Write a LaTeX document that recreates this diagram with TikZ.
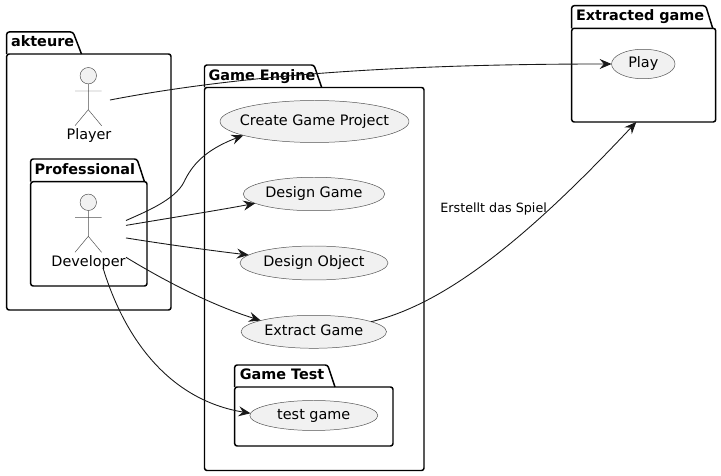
\documentclass[tikz,border=0pt]{standalone}
\usepackage{fontspec}
\setmainfont{DejaVu Sans}
\usetikzlibrary{arrows.meta,fit,shapes.geometric}
\definecolor{ink}{HTML}{181818}
\definecolor{paleFill}{HTML}{F1F1F1}
\newcommand{\uclabel}[1]{\makebox[0pt]{#1}}
\tikzset{
  pkgline/.style = {black, line width = 0.85pt, rounded corners = 1.4pt},
  pkgbody/.style = {pkgline, rectangle, inner sep = 0pt, outer sep = 0pt},
  pkgtitle/.style = {anchor = base west, inner sep = 0pt, font = \bfseries\fontsize{8.2}{9.5}\selectfont},
  usecase/.style = {ellipse, draw = ink!75, fill = paleFill, line width = 0.28pt, inner sep = 0pt, outer sep = 0pt, text height = 7pt, text depth = 2.8pt, font = \fontsize{8.2}{9.5}\selectfont},
  actorbox/.style = {rectangle, inner sep = 0pt, outer sep = 0pt},
  actorlabel/.style = {anchor = base, inner sep = 0pt, font = \fontsize{8.2}{9.5}\selectfont},
  edgelabel/.style = {anchor = base west, inner sep = 0pt, font = \fontsize{7.25}{9}\selectfont},
  link/.style = {ink, line width = 0.5pt, -{Stealth[length = 6.8pt, width = 5.7pt, inset = 2.4pt]}},
  actor/.pic = {
    \draw[ink!75, line width = 0.28pt, fill = paleFill] (0, 0) circle (8.2);
    \draw[ink!75, line width = 0.28pt] (0, 8.2) -- (0, 34) (-13.3, 15.3) -- (13.3, 15.3) (-13.3, 50) -- (0, 34) -- (13.3, 50);
  }
}
\begin{document}
\begin{tikzpicture}[x = 0.02cm, y = -0.02cm]
\useasboundingbox (0, 0) rectangle (721, 476);

% packages
\node[pkgbody, draw, fit = {(6.7, 54) (171, 310)}] (akteure) {};
\draw[pkgline] (6.7, 54) -- (6.7, 32) -- (73, 32) -- (81.5, 54);
\node[pkgtitle] (akteure title) at (10.7, 47) {akteure};

\node[pkgbody, draw, fit = {(30.7, 181.7) (147, 286)}] (professional) {};
\draw[pkgline] (30.7, 181.7) -- (30.7, 159) -- (137, 159) -- (144.5, 181.7);
\node[pkgtitle] (professional title) at (34.3, 174.5) {Professional};

\node[pkgbody, draw, fit = {(204.5, 87.5) (424, 470.5)}] (engine) {};
\draw[pkgline] (204.5, 87.5) -- (204.5, 65) -- (314, 65) -- (321.7, 87.5);
\node[pkgtitle] (engine title) at (208.3, 80.3) {Game Engine};

\node[pkgbody, draw, fit = {(234.7, 387) (393, 446)}] (test) {};
\draw[pkgline] (234.7, 387) -- (234.7, 365) -- (327.7, 365) -- (335, 387);
\node[pkgtitle] (test title) at (239.5, 380) {Game Test};

\node[pkgbody, draw, fit = {(571.7, 28.3) (715.7, 122)}] (extracted) {};
\draw[pkgline] (571.7, 28.3) -- (571.7, 5.7) -- (705.7, 5.7) -- (712.7, 28.3);
\node[pkgtitle] (extracted title) at (575.7, 21) {Extracted game};

% actors
\pic at (88.3, 75.7) {actor};
\node[actorbox, minimum width = 0.86cm, minimum height = 1.6cm] (player) at (88.5, 100) {};
\node[actorlabel] (player label) at (89, 140) {Player};

\pic at (88.3, 202.3) {actor};
\node[actorbox, minimum width = 1.5cm, minimum height = 1.44cm] (developer) at (88.5, 232) {};
\node[actorlabel] (developer label) at (88.5, 267) {Developer};

% use cases
\node[usecase, minimum width = 3.78cm, minimum height = 0.84cm] (create) at (314.5, 121.5) {\uclabel{Create Game Project}};
\node[usecase, minimum width = 2.83cm, minimum height = 0.67cm] (design) at (314, 194) {\uclabel{Design Game}};
\node[usecase, minimum width = 2.96cm, minimum height = 0.68cm] (object) at (314, 263) {\uclabel{Design Object}};
\node[usecase, minimum width = 2.91cm, minimum height = 0.66cm] (extract) at (313.8, 331.8) {\uclabel{Extract Game}};
\node[usecase, minimum width = 2.56cm, minimum height = 0.6cm] (testgame) at (313.8, 415.5) {\uclabel{test game}};
\node[usecase, minimum width = 1.27cm, minimum height = 0.59cm] (play) at (643.3, 64) {\uclabel{Play}};

% links
\draw[link] (player.east) .. controls (250, 73) and (420, 64) .. (play.west);
\draw[link] (developer.17.7) .. controls (145, 212) and (175, 200) .. (184, 182) .. controls (192, 165) and (205, 150) .. (create.191);
\draw[link] (developer.10.6) .. controls (170, 218) and (220, 210) .. (design.189);
\draw[link] (developer.-9) .. controls (170, 245) and (215, 251) .. (object.173.8);
\draw[link] (developer.-34.7) .. controls (155, 275) and (205, 303) .. (extract.168);
\draw[link] (developer.-68) .. controls (125, 340) and (170, 400) .. (testgame.178.7);
\draw[link] (extract.10.7) .. controls (450, 303) and (535, 230) .. (extracted.-99.3);
\node[edgelabel] (built label) at (440, 213) {Erstellt das Spiel};
\end{tikzpicture}
\end{document}
